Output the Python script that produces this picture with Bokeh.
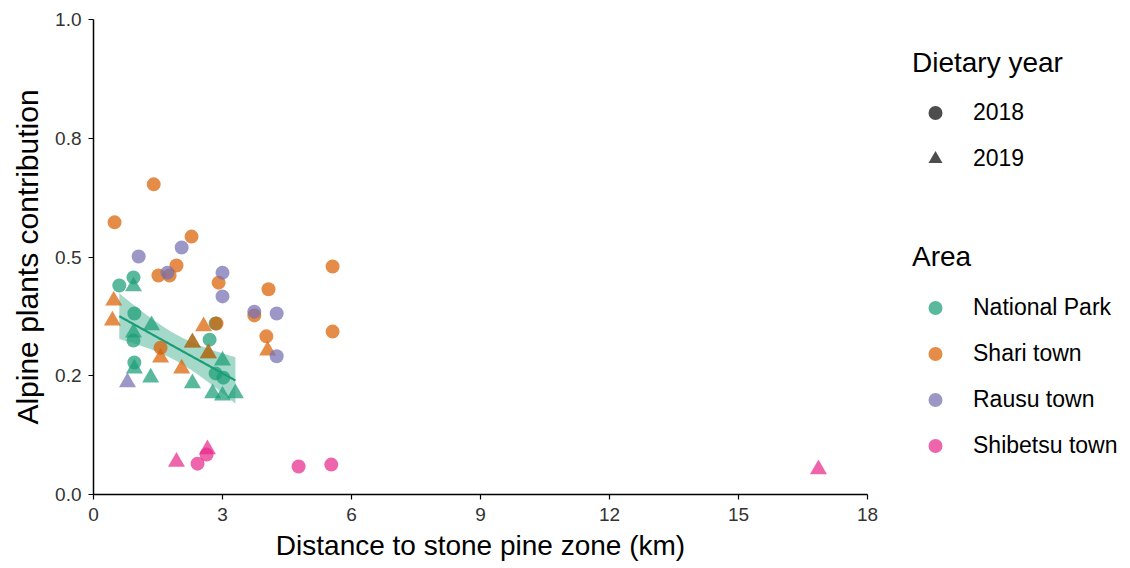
import numpy as np
from bokeh.plotting import figure
from bokeh.layouts import row
from bokeh.models import FixedTicker, Legend, LegendItem, ColumnDataSource
from bokeh.embed import file_html
from bokeh.resources import INLINE

# ---- data ----
np_circle_x = [0.60, 0.93, 0.95, 0.93, 0.95, 2.84, 2.70, 2.84, 3.02]
np_circle_y = [0.440, 0.457, 0.381, 0.324, 0.278, 0.360, 0.326, 0.255, 0.246]
np_tri_x = [0.93, 1.35, 0.93, 0.95, 1.33, 2.30, 2.30, 2.67, 3.00, 2.77, 3.00, 3.30]
np_tri_y = [0.438, 0.356, 0.341, 0.265, 0.246, 0.234, 0.320, 0.297, 0.282, 0.213, 0.208, 0.213]

shari_circle_x = [0.49, 1.40, 2.28, 1.93, 1.51, 1.77, 2.91, 4.07, 5.56, 5.56, 3.74, 4.02, 2.86, 1.56]
shari_circle_y = [0.573, 0.653, 0.543, 0.482, 0.461, 0.461, 0.446, 0.432, 0.480, 0.343, 0.377, 0.333, 0.360, 0.309]
shari_tri_x = [0.47, 0.44, 2.56, 2.30, 2.67, 2.05, 1.56, 4.05]
shari_tri_y = [0.408, 0.366, 0.354, 0.320, 0.297, 0.265, 0.288, 0.303]

rausu_circle_x = [1.05, 2.05, 1.72, 3.00, 3.00, 3.74, 4.26, 4.26]
rausu_circle_y = [0.501, 0.520, 0.467, 0.467, 0.417, 0.385, 0.381, 0.291]
rausu_tri_x = [0.79]
rausu_tri_y = [0.236]

shib_circle_x = [2.42, 2.63, 4.77, 5.53]
shib_circle_y = [0.065, 0.084, 0.059, 0.063]
shib_tri_x = [1.93, 2.65, 16.86]
shib_tri_y = [0.069, 0.095, 0.053]

areas = ["National Park", "Shari town", "Rausu town", "Shibetsu town"]
area_colors = ["#1B9E77", "#D95F02", "#7570B3", "#E7298A"]
years = ["2018", "2019"]
x_ticks = [0, 3, 6, 9, 12, 15, 18]
y_ticks = [0.0, 0.25, 0.5, 0.75, 1.0]
y_tick_labels = ["0.0", "0.2", "0.5", "0.8", "1.0"]

FONT = "Liberation Sans"

p = figure(width=880, height=568, x_range=(0, 18), y_range=(0, 1),
           output_backend="svg", toolbar_location=None,
           min_border_left=93, min_border_right=13,
           min_border_top=19, min_border_bottom=74)
p.outline_line_color = None
p.grid.visible = False
p.background_fill_color = "white"
p.border_fill_color = "white"

for ax in (p.xaxis[0], p.yaxis[0]):
    ax.axis_line_color = "black"
    ax.axis_line_width = 1.5
    ax.major_tick_line_color = "black"
    ax.major_tick_line_width = 1.2
    ax.major_tick_out = 5
    ax.major_tick_in = 0
    ax.minor_tick_line_color = None
    ax.major_label_text_font = FONT
    ax.major_label_text_font_size = "19px"
    ax.major_label_text_color = "#333333"
    ax.axis_label_text_font = FONT
    ax.axis_label_text_font_style = "normal"
    ax.axis_label_text_color = "black"

p.xaxis.axis_label_text_font_size = "28px"
p.yaxis.axis_label_text_font_size = "30px"
p.xaxis.ticker = FixedTicker(ticks=x_ticks)
p.yaxis.ticker = FixedTicker(ticks=y_ticks)
p.yaxis.major_label_overrides = {t: l for t, l in zip(y_ticks, y_tick_labels)}
p.xaxis.axis_label = "Distance to stone pine zone (km)"
p.yaxis.axis_label = "Alpine plants contribution"
p.xaxis.major_label_standoff = 8
p.yaxis.major_label_standoff = 7
p.xaxis.axis_label_standoff = 6
p.yaxis.axis_label_standoff = 8

# ---- regression for National Park points ----
fx = np.array(np_circle_x + np_tri_x)
fy = np.array(np_circle_y + np_tri_y)
n = len(fx)
b, a = np.polyfit(fx, fy, 1)
xs = np.linspace(fx.min(), fx.max(), 80)
yhat = a + b * xs
resid = fy - (a + b * fx)
s = np.sqrt(np.sum(resid ** 2) / (n - 2))
sxx = np.sum((fx - fx.mean()) ** 2)
se = s * np.sqrt(1.0 / n + (xs - fx.mean()) ** 2 / sxx)
tq = 2.093  # t quantile 0.975, df = 19
p.varea(x=xs, y1=yhat - tq * se, y2=yhat + tq * se, fill_color="#1B9E77", fill_alpha=0.4)
p.line(xs, yhat, line_color="#1B9E77", line_width=2.2)

# ---- points ----
groups = [
    (np_circle_x, np_circle_y, np_tri_x, np_tri_y),
    (shari_circle_x, shari_circle_y, shari_tri_x, shari_tri_y),
    (rausu_circle_x, rausu_circle_y, rausu_tri_x, rausu_tri_y),
    (shib_circle_x, shib_circle_y, shib_tri_x, shib_tri_y),
]
for (cx, cy, tx, ty), col in zip(groups, area_colors):
    p.scatter(cx, cy, marker="circle", size=14, fill_color=col, fill_alpha=0.72, line_color=None)
    p.scatter(tx, ty, marker="triangle", size=17, fill_color=col, fill_alpha=0.72, line_color=None)

# ---- legend panel (separate blank figure) ----
lf = figure(width=250, height=568, x_range=(0, 1), y_range=(0, 1),
            output_backend="svg", toolbar_location=None,
            x_axis_type=None, y_axis_type=None,
            min_border_left=0, min_border_right=0, min_border_top=0, min_border_bottom=0)
lf.outline_line_color = None
lf.grid.visible = False
lf.background_fill_color = "white"
lf.border_fill_color = "white"

# one off-screen point per key renderer so the legend can draw its glyph
off = dict(x=[5.0], y=[5.0])
r2018 = lf.scatter(x="x", y="y", source=ColumnDataSource(off), marker="circle", size=12,
                   fill_color="#4D4D4D", line_color=None)
r2019 = lf.scatter(x="x", y="y", source=ColumnDataSource(off), marker="triangle", size=12,
                   fill_color="#4D4D4D", line_color=None)
area_rs = [lf.scatter(x="x", y="y", source=ColumnDataSource(off), marker="circle", size=12,
                      fill_color=c, fill_alpha=0.72, line_color=None) for c in area_colors]


def style_legend(lg, standoff):
    lg.title_text_font = FONT
    lg.title_text_font_size = "28px"
    lg.title_text_font_style = "normal"
    lg.title_text_color = "black"
    lg.label_text_font = FONT
    lg.label_text_font_size = "23px"
    lg.label_text_color = "black"
    lg.glyph_width = 46
    lg.glyph_height = 35
    lg.label_height = 35
    lg.label_standoff = 15
    lg.spacing = 11
    lg.padding = 0
    lg.margin = 0
    lg.title_standoff = standoff
    lg.border_line_color = None
    lg.background_fill_alpha = 0


leg1 = Legend(items=[LegendItem(label=years[0], renderers=[r2018]),
                     LegendItem(label=years[1], renderers=[r2019])],
              title="Dietary year", location=(32, 318))
leg2 = Legend(items=[LegendItem(label=a_, renderers=[r]) for a_, r in zip(areas, area_rs)],
              title="Area", location=(32, 31))
style_legend(leg1, 16)
style_legend(leg2, 17)
lf.add_layout(leg1)
lf.add_layout(leg2)

layout = row(p, lf, spacing=0)
open("out.html", "w").write(file_html(layout, INLINE))
